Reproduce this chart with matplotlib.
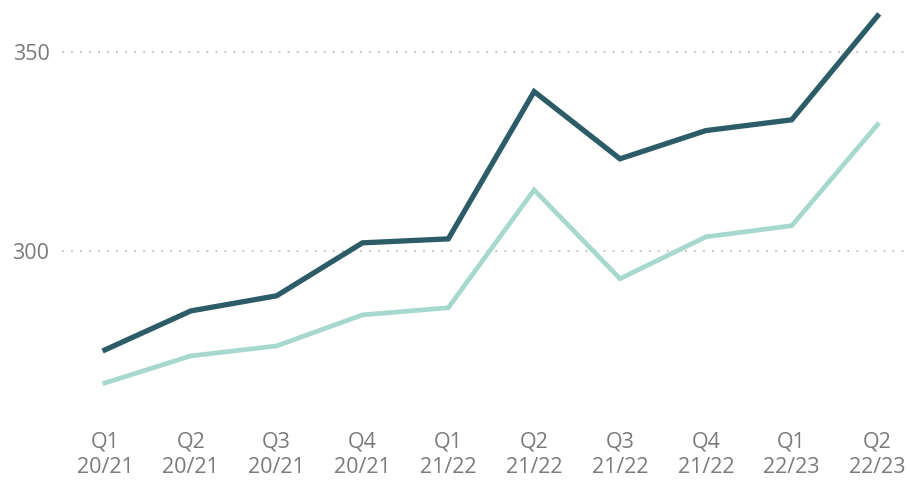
import matplotlib
matplotlib.use('Agg')
import matplotlib.pyplot as plt

quarters = ['Q1\n20/21', 'Q2\n20/21', 'Q3\n20/21', 'Q4\n20/21', 'Q1\n21/22',
            'Q2\n21/22', 'Q3\n21/22', 'Q4\n21/22', 'Q1\n22/23', 'Q2\n22/23']
series_dark = [275.1, 284.9, 288.7, 302.0, 303.0, 340.0, 323.1, 330.2, 332.9, 359.0]
series_light = [266.8, 273.6, 276.1, 283.9, 285.7, 315.3, 293.0, 303.5, 306.3, 331.7]
y_ticks = [300, 350]

plt.rcParams['font.family'] = ['Open Sans', 'DejaVu Sans']

fig = plt.figure(figsize=(9.08, 4.97), dpi=100)
ax = fig.add_axes([62 / 908, 77 / 497, 843 / 908, 420 / 497])

x = range(len(quarters))
ax.plot(x, series_light, color='#a6d8cd', linewidth=3.4, solid_joinstyle='miter', zorder=3)
ax.plot(x, series_dark, color='#2b5c68', linewidth=3.8, solid_joinstyle='miter', zorder=4)

ax.set_xlim(-0.5, 9.32)
ax.set_ylim(257.5, 363)
ax.set_yticks(y_ticks)
ax.set_yticklabels([str(v) for v in y_ticks], fontsize=15.5, color='#7a7a7a')
ax.set_xticks(list(x))
ax.set_xticklabels(quarters, fontsize=15.5, color='#7a7a7a', linespacing=1.3)
ax.tick_params(axis='both', length=0)
ax.tick_params(axis='y', pad=9)
ax.tick_params(axis='x', pad=8)

ax.grid(axis='y', color='#bdbdbd', linestyle=(0, (1, 4)), linewidth=1.3)
for s in ax.spines.values():
    s.set_visible(False)

fig.savefig('out.png', dpi=100, facecolor='white')
